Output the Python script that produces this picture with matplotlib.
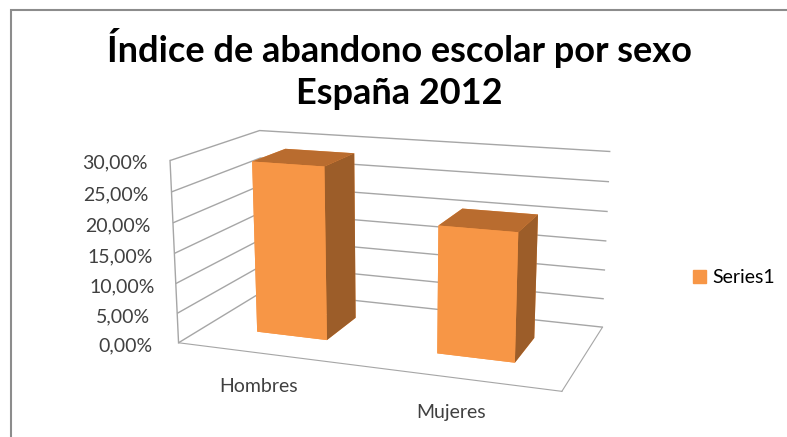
import numpy as np
import matplotlib.pyplot as plt
from matplotlib.patches import Rectangle, Patch
from matplotlib.ticker import FuncFormatter

categorias = ['Hombres', 'Mujeres']
valores = [0.288, 0.208]
ticks_z = [0.0, 0.05, 0.10, 0.15, 0.20, 0.25, 0.30]
serie = 'Series1'
titulo1 = 'Índice de abandono escolar por sexo'
titulo2 = 'España 2012'

plt.rcParams['font.family'] = ['Lato', 'DejaVu Sans']

naranja = '#F79646'
techo = '#B96C2F'
lado = '#9C5D29'
gris = '#A6A6A6'
texto = '#404040'

fig = plt.figure(figsize=(7.87, 4.37), dpi=100)
ax = fig.add_axes([0.065, -0.007, 0.86, 0.86], projection='3d')
ax.set_proj_type('persp', focal_length=0.6)
ax.view_init(elev=14.5, azim=-70)
ax.set_box_aspect((2, 1, 0.95), zoom=1.22)

n = len(valores)
zmax = ticks_z[-1]
xs = np.arange(n) + 0.3
ys = np.full(n, 0.3)
colores = []
for v in valores:
    # -z, +z, -y, +y, -x, +x
    colores += [naranja, techo, naranja, naranja, naranja, lado]
ax.bar3d(xs, ys, np.zeros(n), 0.4, 0.4, valores, color=colores, shade=False)

# arista frontal izquierda (eje vertical)
ax.plot([0, 0], [0, 0], zs=[0, zmax], color=gris, lw=1.0, clip_on=False)

ax.set_xlim(0, n)
ax.set_ylim(0, 1)
ax.set_zlim(0, zmax)

ax.set_xticks(np.arange(n) + 0.5)
ax.set_xticklabels(categorias, fontsize=14, color=texto)
ax.set_yticks([])
ax.set_zticks(ticks_z)
ax.zaxis.set_major_formatter(FuncFormatter(lambda v, p: f'{v*100:.2f}%'.replace('.', ',')))
ax.zaxis.set_ticks_position('lower')
ax.tick_params(axis='z', labelsize=14, labelcolor=texto, pad=9)
ax.tick_params(axis='x', pad=6)
for t in ax.zaxis.get_major_ticks():
    t.label1.set_va('center_baseline')

for eje in (ax.xaxis, ax.yaxis, ax.zaxis):
    eje.set_pane_color((1, 1, 1, 1))
    eje.pane.set_edgecolor('white')
    eje.line.set_color(gris)
    eje._axinfo['tick']['inward_factor'] = 0
    eje._axinfo['tick']['outward_factor'] = 0
ax.zaxis.line.set_color((1, 1, 1, 0))
ax.xaxis._axinfo['grid']['color'] = (1, 1, 1, 0)
ax.yaxis._axinfo['grid']['color'] = (1, 1, 1, 0)
ax.zaxis._axinfo['grid']['color'] = gris
ax.zaxis._axinfo['grid']['linewidth'] = 1.0

fig.text(0.507, 1 - 62 / 437, titulo1, ha='center', va='baseline', fontsize=26,
         fontweight='bold')
fig.text(0.507, 1 - 104 / 437, titulo2, ha='center', va='baseline', fontsize=26,
         fontweight='bold')

fig.legend(handles=[Patch(color=naranja, label=serie)], loc='center left',
           bbox_to_anchor=(693 / 787, 1 - 277.5 / 437), frameon=False, fontsize=14,
           borderpad=0, borderaxespad=0,
           handlelength=0.68, handleheight=0.68, handletextpad=0.3)

fig.patches.append(Rectangle((11 / 787, -0.1), 1.2, 1.1 - 10 / 437, fill=False,
                             edgecolor='#8C8C8C', lw=1.5, transform=fig.transFigure))

fig.savefig('out.png', dpi=100)
